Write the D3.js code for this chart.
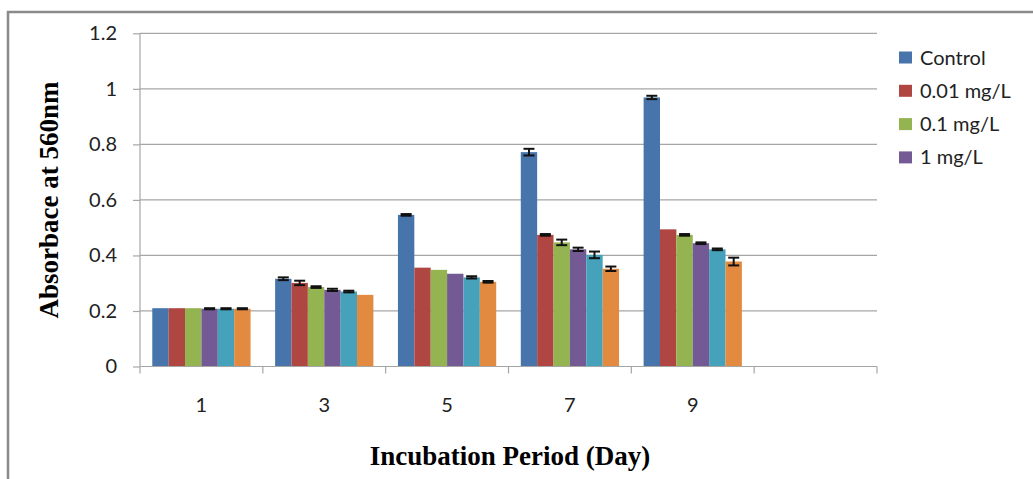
<!DOCTYPE html>
<html>
<head>
<meta charset="utf-8">
<script src="https://cdn.jsdelivr.net/npm/d3@7"></script>
<style>
  body { margin: 0; background: #fff; }
  .tick text { font-family: Lato, "Open Sans", sans-serif; font-size: 20px; fill: #222; }
</style>
</head>
<body>
<svg width="1033" height="479"></svg>
<script>
// days on the x axis (last slot is empty in the original)
var days = ["1", "3", "5", "7", "9", ""];
var series = ["Control", "0.01 mg/L", "0.1 mg/L", "1 mg/L", "s5", "s6"];
var legendNames = ["Control", "0.01 mg/L", "0.1 mg/L", "1 mg/L"];
var colors = ["#4674ab", "#b04642", "#93b450", "#745a94", "#45a2ba", "#e28a3f"];

// values per series, one per day
var control = [0.21, 0.316, 0.546, 0.772, 0.969];
var mg001 = [0.21, 0.301, 0.356, 0.474, 0.494];
var mg01 = [0.21, 0.286, 0.348, 0.447, 0.474];
var mg1 = [0.208, 0.276, 0.334, 0.422, 0.444];
var s5 = [0.208, 0.270, 0.321, 0.402, 0.422];
var s6 = [0.208, 0.258, 0.305, 0.352, 0.378];

// error bars (+/-)
var errControl = [0, 0.005, 0.003, 0.012, 0.006];
var err001 = [0, 0.008, 0, 0.003, 0];
var err01 = [0, 0.003, 0, 0.01, 0.003];
var err1 = [0.002, 0.004, 0, 0.006, 0.003];
var errS5 = [0.002, 0.003, 0.004, 0.012, 0.003];
var errS6 = [0.002, 0, 0.003, 0.008, 0.014];

var yTicks = [0, 0.2, 0.4, 0.6, 0.8, 1, 1.2];

var values = [control, mg001, mg01, mg1, s5, s6];
var errors = [errControl, err001, err01, err1, errS5, errS6];

var svg = d3.select("svg");

// outer frame (runs past the right and bottom edges)
svg.append("rect")
    .attr("x", 8).attr("y", 12)
    .attr("width", 1040).attr("height", 480)
    .attr("fill", "none")
    .attr("stroke", "#8a8a8a")
    .attr("stroke-width", 2.5);

var pLeft = 140, pRight = 877, pTop = 33.3, pBottom = 366.5;

var x = d3.scaleBand().domain(days).range([pLeft, pRight]);
var y = d3.scaleLinear().domain([0, 1.2]).range([pBottom, pTop]);
var xs = d3.scaleBand().domain(d3.range(series.length))
    .range([x.bandwidth() * 0.1, x.bandwidth() * 0.9]);

// grid lines
svg.append("g").selectAll("line")
  .data(yTicks.slice(1))
  .enter().append("line")
    .attr("x1", pLeft).attr("x2", pRight)
    .attr("y1", function(d) { return y(d); })
    .attr("y2", function(d) { return y(d); })
    .attr("stroke", "#a6a6a6")
    .attr("stroke-width", 1.2);

// bars
var rows = [];
series.forEach(function(s, i) {
  values[i].forEach(function(v, j) {
    rows.push({s: i, day: days[j], v: v, e: errors[i][j]});
  });
});

svg.append("g").selectAll("rect")
  .data(rows)
  .enter().append("rect")
    .attr("x", function(d) { return x(d.day) + xs(d.s); })
    .attr("y", function(d) { return y(d.v); })
    .attr("width", xs.bandwidth())
    .attr("height", function(d) { return pBottom - y(d.v); })
    .attr("fill", function(d) { return colors[d.s]; });

// error bars
var eb = svg.append("g").attr("stroke", "#111").attr("stroke-width", 2)
  .selectAll("g")
  .data(rows.filter(function(d) { return d.e > 0; }))
  .enter().append("g")
    .attr("transform", function(d) {
      return "translate(" + (x(d.day) + xs(d.s) + xs.bandwidth() / 2) + ",0)";
    });
eb.append("line")
    .attr("y1", function(d) { return y(d.v - d.e); })
    .attr("y2", function(d) { return y(d.v + d.e); });
eb.append("line")
    .attr("x1", -5.5).attr("x2", 5.5)
    .attr("y1", function(d) { return y(d.v + d.e); })
    .attr("y2", function(d) { return y(d.v + d.e); });
eb.append("line")
    .attr("x1", -5.5).attr("x2", 5.5)
    .attr("y1", function(d) { return y(d.v - d.e); })
    .attr("y2", function(d) { return y(d.v - d.e); });

// y axis
var yAxis = svg.append("g")
    .attr("transform", "translate(" + pLeft + ",0)")
    .call(d3.axisLeft(y).tickValues(yTicks).tickSize(7).tickPadding(16)
      .tickFormat(function(d) { return String(d); }));
yAxis.selectAll("line, path").attr("stroke", "#a6a6a6").attr("stroke-width", 1.2);
yAxis.select(".domain").attr("d", "M0," + pTop + "V" + pBottom);

// x axis
var xAxis = svg.append("g")
    .attr("transform", "translate(0," + pBottom + ")")
    .call(d3.axisBottom(x).tickSize(0).tickPadding(31));
xAxis.select(".domain").attr("stroke", "#a6a6a6").attr("stroke-width", 1.2)
    .attr("d", "M" + pLeft + ",0H" + pRight);
svg.append("g").selectAll("line")
  .data(days)
  .enter().append("line")
    .attr("x1", function(d) { return x(d); })
    .attr("x2", function(d) { return x(d); })
    .attr("y1", pBottom).attr("y2", pBottom + 7)
    .attr("stroke", "#a6a6a6").attr("stroke-width", 1.2);
svg.append("line")
    .attr("x1", pRight).attr("x2", pRight)
    .attr("y1", pBottom).attr("y2", pBottom + 7)
    .attr("stroke", "#a6a6a6").attr("stroke-width", 1.2);

// axis titles
svg.append("text")
    .attr("transform", "translate(58,200) rotate(-90)")
    .attr("text-anchor", "middle")
    .style("font-family", "'Liberation Serif', 'Times New Roman', serif")
    .style("font-weight", "bold")
    .style("font-size", "27px")
    .text("Absorbace at 560nm");

svg.append("text")
    .attr("x", 510).attr("y", 465)
    .attr("text-anchor", "middle")
    .style("font-family", "'Liberation Serif', 'Times New Roman', serif")
    .style("font-weight", "bold")
    .style("font-size", "27px")
    .text("Incubation Period (Day)");

// legend
var legend = svg.append("g").selectAll("g")
  .data(legendNames)
  .enter().append("g")
    .attr("transform", function(d, i) { return "translate(899," + (57.5 + i * 33.3) + ")"; });
legend.append("rect")
    .attr("x", 0).attr("y", -6)
    .attr("width", 13).attr("height", 12)
    .attr("fill", function(d, i) { return colors[i]; });
legend.append("text")
    .attr("x", 21).attr("y", 7)
    .style("font-family", "Lato, 'Open Sans', sans-serif")
    .style("font-size", "20px")
    .style("fill", "#222")
    .text(function(d) { return d; });
</script>
</body>
</html>
